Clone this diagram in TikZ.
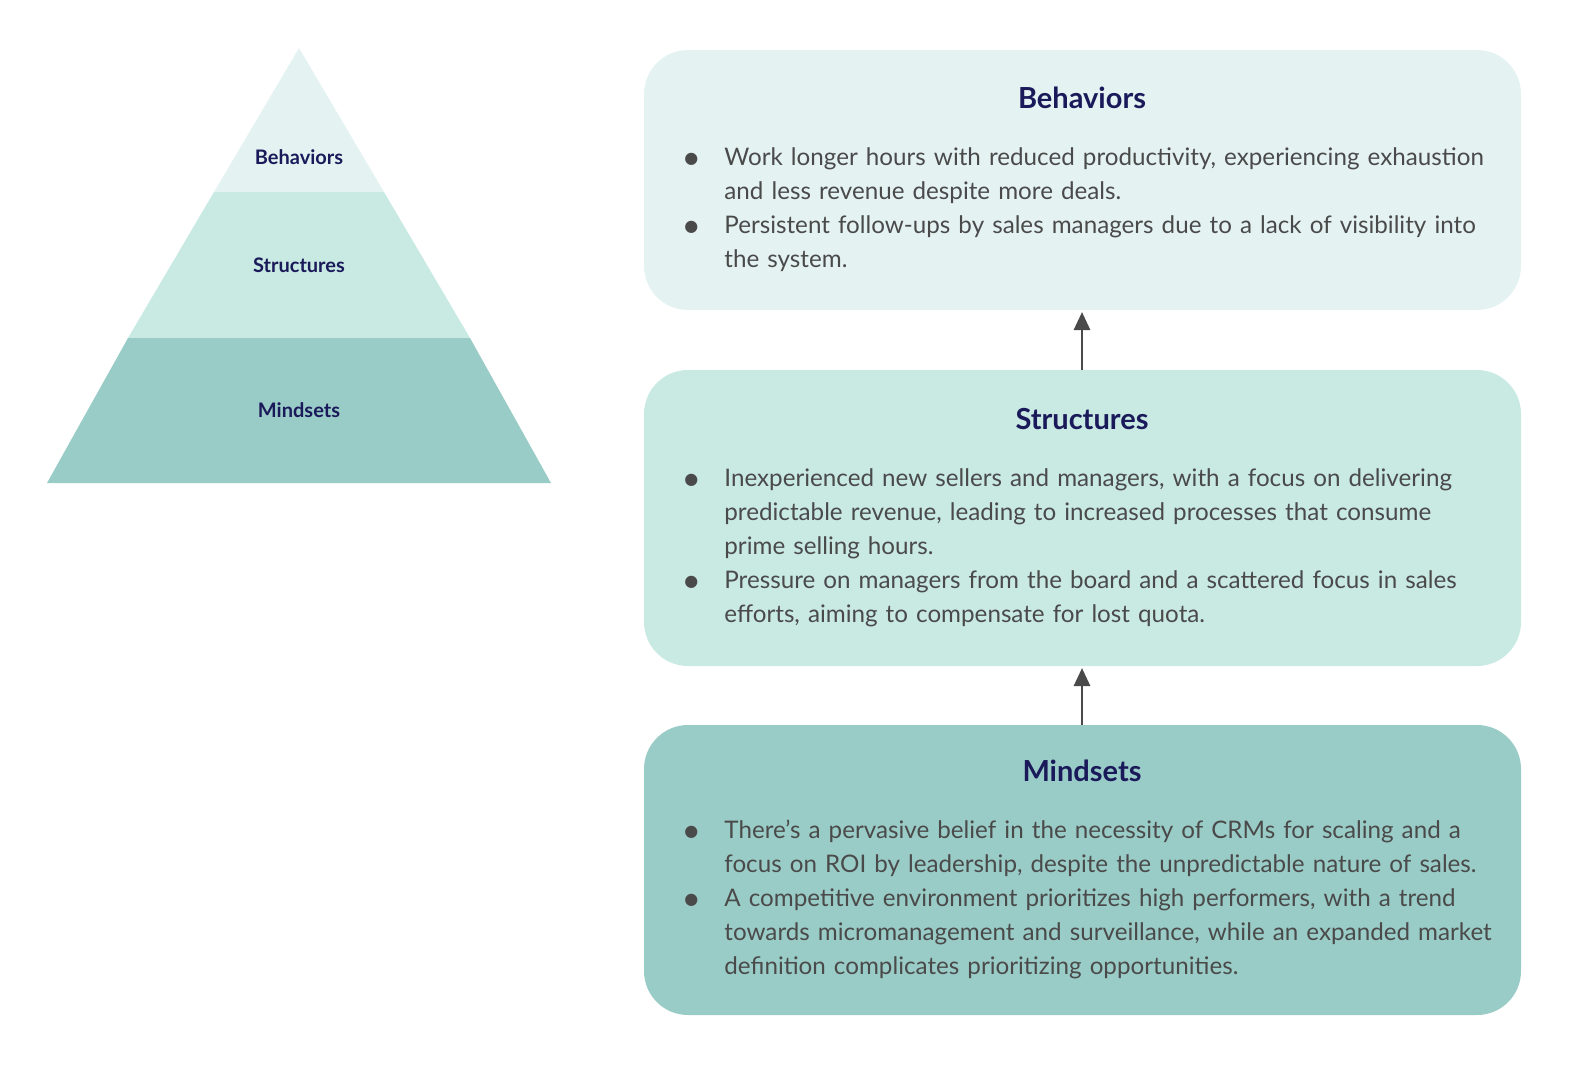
\documentclass[tikz,border=0pt]{standalone}
\usepackage{fontspec}
\setmainfont{Lato}
\newfontfamily\symfont{DejaVu Sans}
\usetikzlibrary{arrows.meta,positioning}
\definecolor{tierA}{HTML}{E4F3F2}
\definecolor{tierB}{HTML}{C9E9E3}
\definecolor{tierC}{HTML}{9ACCC7}
\definecolor{navy}{HTML}{1A1A5A}
\definecolor{body}{HTML}{4A4A4A}
\newcommand{\nohyph}{\hyphenpenalty=10000 \exhyphenpenalty=10000 }
\newcommand{\pointitem}[1]{\hangindent=20pt\hangafter=1\noindent\makebox[20pt][l]{\raisebox{1pt}{\symfont\fontsize{8}{8}\selectfont●}}#1\par}
\tikzset{
  panel/.style={draw=none,fill=#1,rounded corners=22pt},
  tierlabel/.style={text=navy,font=\bfseries\fontsize{10}{12}\selectfont},
  paneltitle/.style={text=navy,font=\bfseries\fontsize{14.5}{17}\selectfont},
  panelbody/.style={anchor=north west,text=body,text width=404pt,inner sep=0pt,
    font=\fontsize{12.1}{17}\selectfont,align=left},
  up/.style={-{Triangle[length=9pt,width=8pt]},line width=1.4pt,draw=body}
}
\begin{document}
\begin{tikzpicture}[x=0.5pt,y=-0.5pt]
      \useasboundingbox (0,0) rectangle (1596,1082);
      % pyramid
      \fill[tierA] (299,48) -- (384,192) -- (214,192) -- cycle;
      \fill[tierB] (214,192) -- (384,192) -- (470,338) -- (128,338) -- cycle;
      \fill[tierC] (128,338) -- (470,338) -- (551,483) -- (47,483) -- cycle;
      \node[tierlabel] at (299,157) (pb) {Behaviors};
      \node[tierlabel] at (299,265) (ps) {Structures};
      \node[tierlabel] at (299,410) (pm) {Mindsets};
      % panels
      \fill[panel=tierA] (644,50) rectangle (1521,310);
      \fill[panel=tierB] (644,370) rectangle (1521,666);
      \fill[panel=tierC] (644,725) rectangle (1521,1015);
      \coordinate (bbot) at (1082,312);
      \coordinate (stop) at (1082,370);
      \coordinate (sbot) at (1082,668);
      \coordinate (mtop) at (1082,725);
      \node[paneltitle] at (1082,98) (tb) {Behaviors};
      \node[paneltitle] at (1082,419) (ts) {Structures};
      \node[paneltitle] at (1082,771) (tm) {Mindsets};
      \node[panelbody] at (684,147) (bb) {\nohyph
        \pointitem{Work longer hours with reduced productivity, experiencing exhaustion and less revenue despite more deals.}
        \pointitem{Persistent follow-ups by sales managers due to a lack of visibility into the system.}};
      \node[panelbody] at (684,468) (bs) {\nohyph
        \pointitem{Inexperienced new sellers and managers, with a focus on delivering predictable revenue, leading to increased processes that consume prime selling hours.}
        \pointitem{Pressure on managers from the board and a scattered focus in sales efforts, aiming to compensate for lost quota.}};
      \node[panelbody] at (684,820) (bm) {\nohyph
        \pointitem{There's a pervasive belief in the necessity of CRMs for scaling and a focus on ROI by leadership, despite the unpredictable nature of sales.}
        \pointitem{A competitive environment prioritizes high performers, with a trend towards micromanagement and surveillance, while an expanded market definition complicates prioritizing opportunities.}};
      \draw[up] (stop) -- (bbot);
      \draw[up] (mtop) -- (sbot);
\end{tikzpicture}
\end{document}
